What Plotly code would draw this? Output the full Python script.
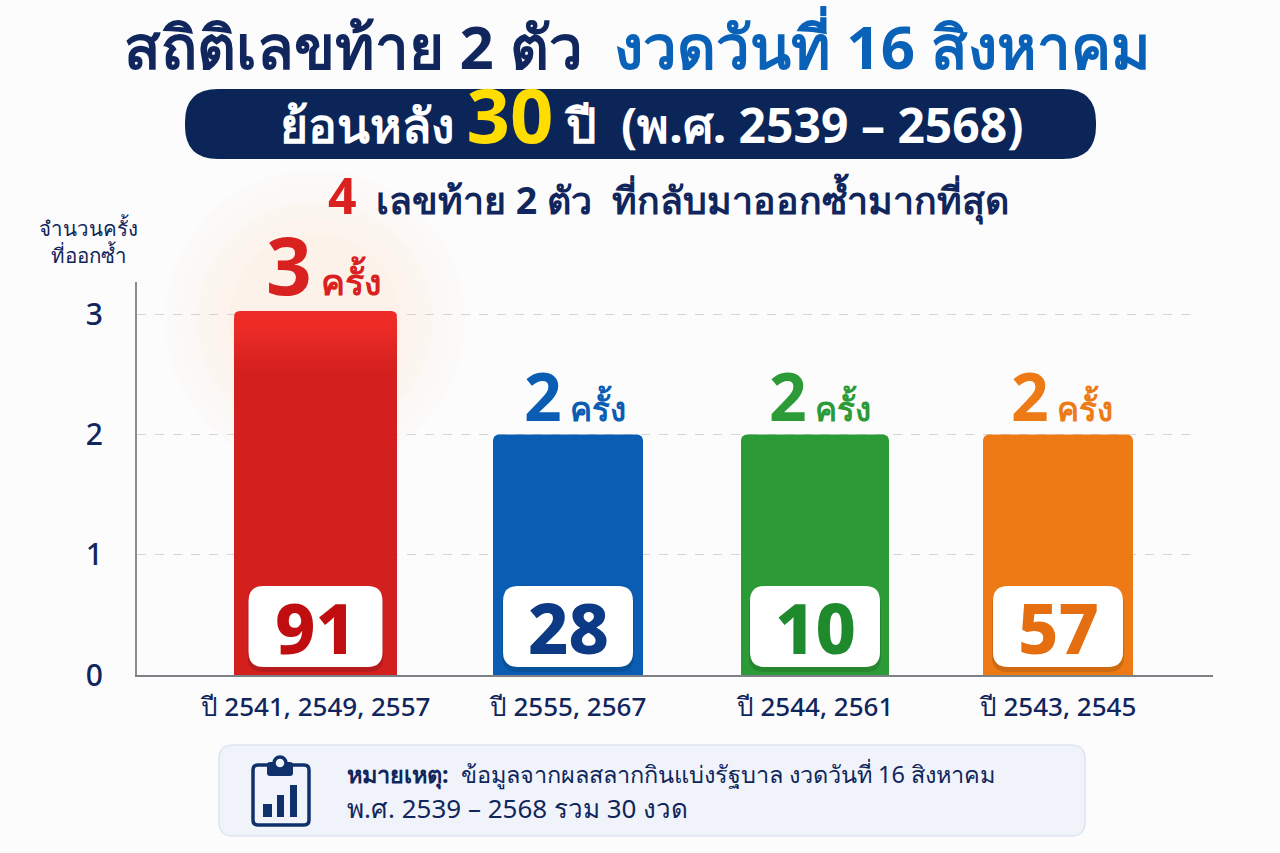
import plotly.graph_objects as go

numbers = ["91", "28", "10", "57"]
counts = [3, 2, 2, 2]
year_labels = ["ปี 2541, 2549, 2557", "ปี 2555, 2567", "ปี 2544, 2561", "ปี 2543, 2545"]
count_word = "ครั้ง"
bar_colors = ["#d3201f", "#0a5db3", "#2c9b37", "#ed7a14"]
number_colors = ["#c00d10", "#0d3a85", "#1f8a2c", "#e56f10"]
count_colors = ["#d9221f", "#0a5db3", "#2c9b37", "#ed7a14"]

NAVY = "#10265c"
BLUE = "#0a62b8"
FONT = "Noto Sans, sans-serif"

W, H = 1280, 853

# layout only, pixel places of the bars
centers = [315.5, 568, 815, 1058]
widths = [163, 150, 148, 150]
count_shift = [8, 7, 5, 4]


def px(x):
    return x / W


def py(y):
    return 1 - y / H


def round_box(x0, y0, x1, y1, r, **kw):
    path = (
        f"M {px(x0 + r)} {py(y0)} L {px(x1 - r)} {py(y0)} Q {px(x1)} {py(y0)} {px(x1)} {py(y0 + r)} "
        f"L {px(x1)} {py(y1 - r)} Q {px(x1)} {py(y1)} {px(x1 - r)} {py(y1)} "
        f"L {px(x0 + r)} {py(y1)} Q {px(x0)} {py(y1)} {px(x0)} {py(y1 - r)} "
        f"L {px(x0)} {py(y0 + r)} Q {px(x0)} {py(y0)} {px(x0 + r)} {py(y0)} Z"
    )
    return dict(type="path", path=path, xref="paper", yref="paper", **kw)


def label(x, y, text, size, color=NAVY, anchor="center", weight=None):
    return dict(
        x=px(x), y=py(y), xref="paper", yref="paper", text=text, showarrow=False,
        xanchor=anchor, yanchor="middle", align=anchor if anchor != "center" else "center",
        font=dict(family=FONT, size=size, color=color, weight=weight),
    )


fig = go.Figure(
    go.Bar(
        x=centers,
        y=counts,
        width=widths,
        marker=dict(color=bar_colors, cornerradius=6, line=dict(width=0)),
        hoverinfo="skip",
    )
)

shapes = []

# glow behind the red bar
for r in range(150, 70, -16):
    shapes.append(dict(
        type="circle", xref="paper", yref="paper", layer="below",
        x0=px(315 - r), x1=px(315 + r), y0=py(320 - r), y1=py(320 + r),
        fillcolor="rgba(255,222,180,0.06)", line=dict(width=0),
    ))

# brighter top of the red bar
for i in range(10):
    shapes.append(dict(
        type="rect", xref="paper", yref="paper", layer="above",
        x0=px(234), x1=px(397), y0=py(320 + 5 * i), y1=py(320 + 5 * (i + 1)),
        fillcolor=f"rgba(250,50,42,{0.7 - 0.07 * i:.2f})", line=dict(width=0),
    ))
shapes.append(round_box(234, 311, 397, 321, 6, layer="above", fillcolor="#ee2c27", line=dict(width=0)))

# title pill
shapes.append(round_box(185, 89, 1096, 159, 33, layer="below", fillcolor="#0b2559", line=dict(width=0)))

# rest of the baseline past the gridlines
shapes.append(dict(
    type="line", xref="paper", yref="paper", x0=px(1197), x1=px(1213), y0=py(676), y1=py(676),
    line=dict(color="#7d8084", width=2),
))

# white number boxes
box_w = [134, 130, 130, 130]
for c, bw in zip(centers, box_w):
    shapes.append(round_box(c - bw / 2 - 1, 590, c + bw / 2 + 1, 672, 15, fillcolor="rgba(0,0,0,0.13)", line=dict(width=0)))
    shapes.append(round_box(c - bw / 2, 586, c + bw / 2, 667, 15, fillcolor="white", line=dict(width=0)))

# note box
shapes.append(round_box(219, 745, 1085, 836, 14, layer="below", fillcolor="#f0f4fa", line=dict(color="#dde5f0", width=1.5)))

# clipboard icon
shapes.append(round_box(253, 765, 309, 825, 5, fillcolor="rgba(0,0,0,0)", line=dict(color="#10306b", width=3.5)))
shapes.append(round_box(267, 762, 293, 776, 3, fillcolor="#10306b", line=dict(width=0)))
shapes.append(dict(type="circle", xref="paper", yref="paper", x0=px(274), x1=px(286), y0=py(757), y1=py(769),
                   fillcolor="#f0f4fa", line=dict(color="#10306b", width=3.5)))
for x0, x1, y0 in [(263, 272, 804), (277, 284, 795), (290, 297, 785)]:
    shapes.append(dict(type="rect", xref="paper", yref="paper", x0=px(x0), x1=px(x1), y0=py(y0), y1=py(817),
                       fillcolor="#10306b", line=dict(width=0)))

annotations = [
    label(637, 46, f'<b>สถิติเลขท้าย 2 ตัว  <span style="color:{BLUE}">งวดวันที่ 16 สิงหาคม</span></b>', 60),
    label(652, 114, '<b>ย้อนหลัง <span style="color:#ffdd00;font-size:76px">30</span> ปี  (พ.ศ. 2539 – 2568)</b>', 48, "white"),
    label(668, 195, '<b><span style="color:#d9221f;font-size:50px">4</span>  เลขท้าย 2 ตัว  ที่กลับมาออกซ้ำมากที่สุด</b>', 37.5),
    label(88, 241, "จำนวนครั้ง<br>ที่ออกซ้ำ", 20.5, weight=500),
    label(345, 774, "<b>หมายเหตุ:</b>  ข้อมูลจากผลสลากกินแบ่งรัฐบาล งวดวันที่ 16 สิงหาคม", 23.5, anchor="left"),
    label(345, 808, "พ.ศ. 2539 – 2568 รวม 30 งวด", 26, anchor="left"),
]

for i, c in enumerate(centers):
    big = 80 if counts[i] == 3 else 66
    small = 36 if counts[i] == 3 else 33
    annotations.append(dict(
        x=c + count_shift[i], y=counts[i], xref="x", yref="y", yanchor="bottom", yshift=-6 if counts[i] == 3 else -8,
        showarrow=False,
        text=f'<b><span style="font-size:{big}px">{counts[i]}</span> {count_word}</b>',
        font=dict(family=FONT, size=small, color=count_colors[i]),
    ))
    annotations.append(dict(
        x=c, y=py(627), xref="x", yref="paper", yanchor="middle", showarrow=False,
        text=numbers[i],
        font=dict(family=FONT, size=70, color=number_colors[i], weight=800),
    ))

fig.update_layout(
    width=W,
    height=H,
    margin=dict(l=0, r=0, t=0, b=0, autoexpand=False),
    paper_bgcolor="#fcfcfd",
    plot_bgcolor="rgba(0,0,0,0)",
    showlegend=False,
    shapes=shapes,
    annotations=annotations,
    xaxis=dict(
        domain=[px(137), px(1197)],
        range=[137, 1197],
        tickmode="array",
        tickvals=centers,
        ticktext=year_labels,
        ticks="",
        ticklabelstandoff=8,
        tickfont=dict(family=FONT, size=26, color=NAVY, weight=500),
        showgrid=False,
        zeroline=False,
        showline=True,
        linecolor="#7d8084",
        linewidth=2,
    ),
    yaxis=dict(
        domain=[py(675), py(282)],
        range=[0, 393 / 120.3],
        tickmode="array",
        tickvals=[0, 1, 2, 3],
        ticks="",
        ticklabelstandoff=26,
        tickfont=dict(family=FONT, size=30, color=NAVY, weight=500),
        showgrid=True,
        gridcolor="#d2d4d6",
        griddash="dash",
        gridwidth=1,
        zeroline=False,
        showline=True,
        linecolor="#8a8d90",
        linewidth=2,
    ),
)

fig.write_html(
    "out.html",
    config=dict(displayModeBar=False),
    post_script="document.body.style.margin='0';",
)
